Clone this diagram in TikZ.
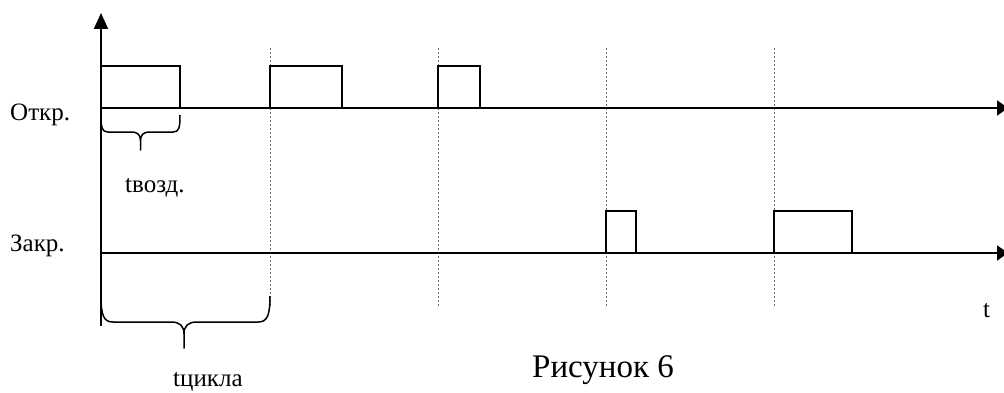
\documentclass[tikz,border=0pt]{standalone}
\usepackage{fontspec}
\setmainfont{Liberation Serif}
\usetikzlibrary{arrows.meta}
\begin{document}
\begin{tikzpicture}[x=1pt,y=1pt,
  axisline/.style={line width=2pt},
  pulseline/.style={line width=1.5pt, line join=miter},
  gridline/.style={line width=0.8pt, gray!80!black, dash pattern=on 2pt off 2pt},
  bracepath/.style={line width=1.5pt, line join=round},
  lbl/.style={inner sep=0pt, anchor=base west, font=\fontsize{25}{30}\selectfont},
  caplbl/.style={inner sep=0pt, anchor=base west, font=\fontsize{33}{38}\selectfont}]
\useasboundingbox (0,0) rectangle (1004,392);
% axis points
\coordinate (O) at (101,66);
\coordinate (Ytop) at (101,379);
\coordinate (A0) at (101,284);
\coordinate (A1) at (1008,284);
\coordinate (B0) at (101,139);
\coordinate (B1) at (1008,139);
% dashed cycle marks
\foreach \x [count=\i] in {270,438,606,774} {
  \coordinate (g\i t) at (\x,344);
  \coordinate (g\i b) at (\x,85);
  \draw[gridline] (g\i t) -- (g\i b);
}
% pulses upper
\draw[pulseline] (101,284) -- (101,326) -- (180,326) -- (180,284);
\draw[pulseline] (270,284) -- (270,326) -- (342,326) -- (342,284);
\draw[pulseline] (438,284) -- (438,326) -- (480,326) -- (480,284);
% pulses lower
\draw[pulseline] (606,139) -- (606,181) -- (636,181) -- (636,139);
\draw[pulseline] (774,139) -- (774,181) -- (852,181) -- (852,139);
% axes
\draw[axisline, -{Triangle[length=16pt,width=14pt]}] (O) -- (Ytop);
\draw[axisline, -{Triangle[length=11pt,width=15pt]}] (A0) -- (A1);
\draw[axisline, -{Triangle[length=11pt,width=15pt]}] (B0) -- (B1);
% brace t_vozd
\coordinate (br1l) at (101,277);
\coordinate (br1r) at (180,277);
\coordinate (br1tip) at (140.5,242);
\draw[bracepath] (br1l) .. controls +(0,-13) and +(-6,0) .. (108,260) -- (131,260)
  .. controls +(7,0) and +(0,6) .. (140.5,251) -- (br1tip) -- (140.5,251)
  .. controls +(0,6) and +(-7,0) .. (150,260) -- (173,260)
  .. controls +(6,0) and +(0,-13) .. (br1r);
% brace t_cikla
\coordinate (br2l) at (101,96);
\coordinate (br2r) at (270,96);
\coordinate (br2tip) at (184,44);
\draw[bracepath] (br2l) .. controls +(0,-20) and +(-9,0) .. (113,70) -- (171,70)
  .. controls +(9,0) and +(0,8) .. (184,58) -- (br2tip) -- (184,58)
  .. controls +(0,8) and +(-9,0) .. (197,70) -- (258,70)
  .. controls +(9,0) and +(0,-20) .. (br2r);
% labels
\node[lbl] (lopen) at (10,272) {Откр.};
\node[lbl] (lclose) at (10,141) {Закр.};
\node[lbl] (ltv) at (125,200) {tвозд.};
\node[lbl] (ltc) at (173,6) {tцикла};
\node[lbl] (lt) at (983,75) {t};
\node[caplbl] (cap) at (532,15) {Рисунок 6};
\end{tikzpicture}
\end{document}
